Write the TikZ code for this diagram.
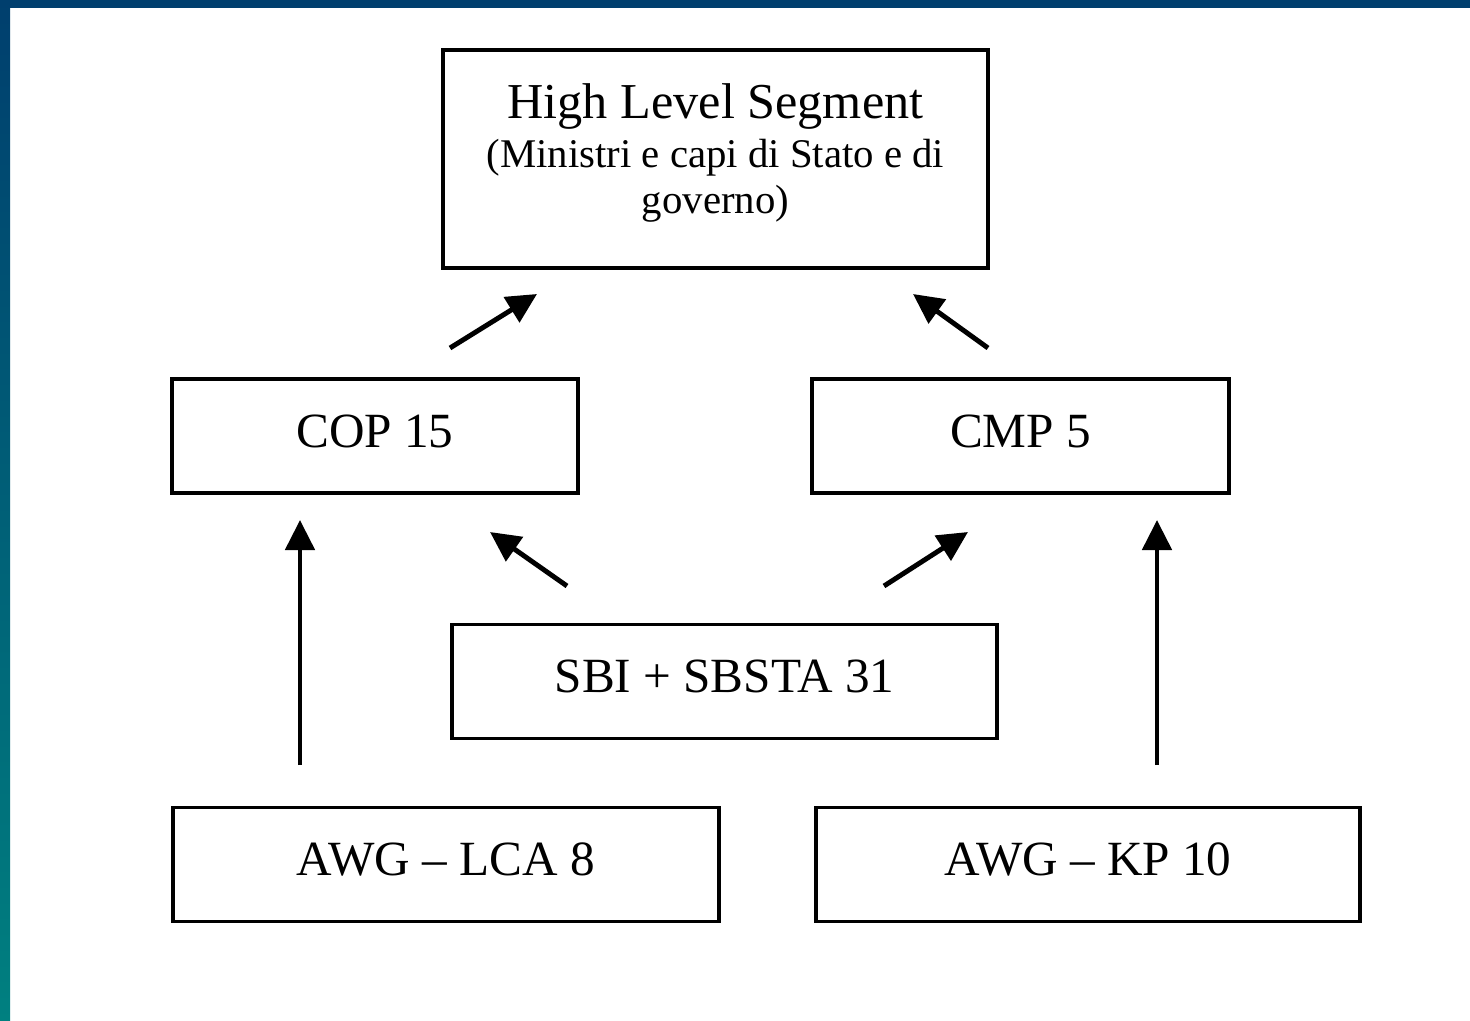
\documentclass[tikz,border=0pt]{standalone}
\usepackage{fontspec}
\setmainfont{Liberation Serif}
\usetikzlibrary{arrows.meta, positioning, calc}

\definecolor{framedark}{HTML}{003F6E}
\definecolor{frameteal}{HTML}{008080}

\begin{document}
\begin{tikzpicture}[
  x=0.1mm, y=-0.1mm,
  box/.style   = {draw, line width=0.9pt, align=center, inner sep=0pt,
                  minimum height=11.4mm, font=\fontsize{14}{16}\selectfont},
  single/.style = {box, text depth=1mm},
  arrow/.style = {line width=1.4pt, -{Triangle[length=3mm, width=2.9mm]}}
]

  % page and frame
  \fill[white] (0,0) rectangle (1470,1021);
  \useasboundingbox (0,0) rectangle (1470,1021);
  \fill[framedark] (0,0) rectangle (1470,8);
  \shade[top color=framedark, bottom color=frameteal] (0,0) rectangle (10,1021);

  % High Level Segment
  \node[box, minimum width=54.5mm, minimum height=21.8mm,
        font=\fontsize{11.6}{13}\selectfont] (hls) at (715.5,159) {
    {\fontsize{14.3}{16}\selectfont High Level Segment}\\[1pt]
    (Ministri e capi di Stato e di\\
    governo)\\[-2.5mm]
  };

  % COP and CMP
  \node[single, minimum width=40.6mm] (cop) at (375,436) {COP 15};
  \node[single, minimum width=41.7mm] (cmp) at (1020.5,436) {CMP 5};

  % subsidiary bodies
  \node[single, minimum width=54.5mm] (sbi) at (724.5,681.5) {SBI + SBSTA 31};

  % working groups
  \node[single, minimum width=54.6mm] (lca) at (446,864.5) {AWG -- LCA 8};
  \node[single, minimum width=54.4mm] (kp) at (1088,864.5) {AWG -- KP 10};

  % arrow ends
  \coordinate (copout) at (450,348);
  \coordinate (hlsinl) at (537,294);
  \coordinate (cmpout) at (988,348);
  \coordinate (hlsinr) at (913,294);
  \coordinate (lcaout) at (300,765);
  \coordinate (copinl) at (300,520);
  \coordinate (sbioutl) at (567,586);
  \coordinate (copinr) at (490,532);
  \coordinate (sbioutr) at (884,586);
  \coordinate (cmpinl) at (968,532);
  \coordinate (kpout) at (1157,765);
  \coordinate (cmpinr) at (1157,520);

  % arrows
  \draw[arrow] (copout) -- (hlsinl);
  \draw[arrow] (cmpout) -- (hlsinr);
  \draw[arrow] (lcaout) -- (copinl);
  \draw[arrow] (sbioutl) -- (copinr);
  \draw[arrow] (sbioutr) -- (cmpinl);
  \draw[arrow] (kpout) -- (cmpinr);

\end{tikzpicture}
\end{document}
